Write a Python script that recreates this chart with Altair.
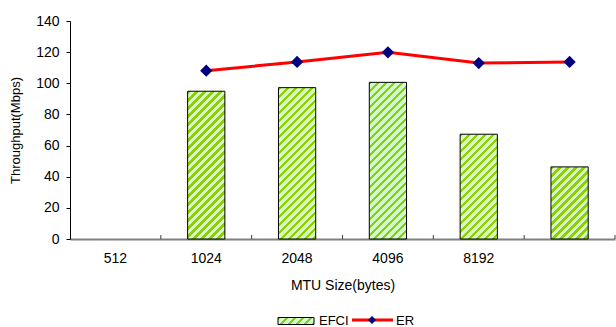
import altair as alt
import pandas as pd

# ---------------- data ----------------
categories = ["512", "1024", "2048", "4096", "8192", " "]
efci = [None, 94.9, 97.2, 100.6, 67.3, 46.3]
er = [None, 108.1, 113.7, 119.9, 113.0, 113.7]
series = ["EFCI", "ER"]
y_ticks = [0, 20, 40, 60, 80, 100, 120, 140]
x_title = "MTU Size(bytes)"
y_title = "Throughput(Mbps)"

# ---------------- style ----------------
FONT = "Liberation Sans"
FS = 13
LFS = 14
W, H = 545, 218
YMAX = 140
BAND_FRAC = 0.41
PERIOD = 8.0
STRIPE = 0.4
C_STRIPE = "#99CC00"
C_BG = "#CCFFCC"
C_LINE = "#FF0000"
C_MARK = "#000080"


def hatch(w, h):
    """Diagonal '/' stripe pattern as a linear gradient in bbox units."""
    L = w + h
    d = w * w + h * h
    bx, by = L * w / d, L * h / d
    stops = [{"offset": 0, "color": C_BG}]
    x = 0.0
    while x < L:
        a = round(x / L, 5)
        b = round(min((x + STRIPE * PERIOD) / L, 1.0), 5)
        stops += [
            {"offset": a, "color": C_BG},
            {"offset": a, "color": C_STRIPE},
            {"offset": b, "color": C_STRIPE},
            {"offset": b, "color": C_BG},
        ]
        x += PERIOD
    stops.append({"offset": 1, "color": C_BG})
    return {"gradient": "linear", "x1": 0, "y1": 0, "x2": bx, "y2": by, "stops": stops}


df = pd.DataFrame({"cat": categories, "EFCI": efci, "ER": er, "idx": list(range(len(categories)))})

x_scale = alt.Scale(type="band", domain=categories, paddingInner=0, paddingOuter=0)
x_axis = alt.Axis(
    title=x_title, labelAngle=0, ticks=False, domainColor="#808080", domainWidth=2,
    labelFont=FONT, labelFontSize=LFS, labelColor="black", labelPadding=12,
    titleFont=FONT, titleFontSize=14, titleFontWeight="normal", titleColor="black",
    titleY=46, titleBaseline="middle", grid=False,
)
y_scale = alt.Scale(domain=[0, YMAX], nice=False, zero=True)
y_axis = alt.Axis(
    title=y_title, values=y_ticks, tickSize=4, tickColor="black", domainColor="black",
    labelFont=FONT, labelFontSize=LFS, labelColor="black", labelPadding=7,
    titleFont=FONT, titleFontSize=FS, titleFontWeight="normal", titleColor="black",
    titleX=-55, titleY=H / 2, titleAngle=-90, titleBaseline="middle", grid=False,
)


def X(**kw):
    return alt.X("cat:N", scale=x_scale, axis=x_axis, sort=categories, **kw)


band_px = W / len(categories)
bar_w = BAND_FRAC * band_px

layers = []
for c, v in zip(categories, efci):
    if v is None:
        continue
    hpx = v * H / YMAX
    layers.append(
        alt.Chart(df)
        .transform_filter(alt.datum.cat == c)
        .mark_bar(fill=hatch(bar_w, hpx), stroke="black", strokeWidth=1,
                  width={"band": BAND_FRAC})
        .encode(x=X(), y=alt.Y("EFCI:Q", scale=y_scale, axis=y_axis))
    )

# inward x-axis ticks at band boundaries
ticks = alt.Chart(df).mark_rule(color="#404040", strokeWidth=1).encode(
    x=X(bandPosition=1), y=alt.value(H), y2=alt.value(H - 4)
)

line = alt.Chart(df).mark_line(color=C_LINE, strokeWidth=3).encode(
    x=X(), y=alt.Y("ER:Q", scale=y_scale, axis=y_axis), order=alt.Order("idx:Q")
)
pts = alt.Chart(df).mark_point(shape="diamond", filled=True, color=C_MARK, size=150, opacity=1).encode(
    x=X(), y=alt.Y("ER:Q", scale=y_scale, axis=y_axis)
)

# ---------------- manual legend ----------------
one = alt.Data(values=[{"k": 0}])
LY = 300  # legend centre line, relative to plot top
leg_sw = alt.Chart(one).mark_rect(fill=hatch(36, 7), stroke="black", strokeWidth=1).encode(
    x=alt.value(208), x2=alt.value(244), y=alt.value(LY - 3.5), y2=alt.value(LY + 3.5)
)
leg_t1 = alt.Chart(one).mark_text(align="left", baseline="middle", font=FONT, fontSize=FS, color="black").encode(
    x=alt.value(249), y=alt.value(LY), text=alt.value(series[0])
)
leg_ln = alt.Chart(one).mark_rule(color=C_LINE, strokeWidth=3).encode(
    x=alt.value(282), x2=alt.value(323), y=alt.value(LY - 1)
)
leg_pt = alt.Chart(one).mark_point(shape="diamond", filled=True, color=C_MARK, size=64, opacity=1).encode(
    x=alt.value(302), y=alt.value(LY - 1)
)
leg_t2 = alt.Chart(one).mark_text(align="left", baseline="middle", font=FONT, fontSize=FS, color="black").encode(
    x=alt.value(326), y=alt.value(LY), text=alt.value(series[1])
)

chart = alt.layer(*layers, ticks, line, pts, leg_sw, leg_t1, leg_ln, leg_pt, leg_t2).properties(
    width=W, height=H,
    padding={"left": 70, "top": 21, "right": 1, "bottom": 88},
    autosize=alt.AutoSizeParams(type="none"),
    background="white",
).configure_view(stroke=None)

chart.save("out.html", embed_options={"renderer": "svg", "actions": False})
